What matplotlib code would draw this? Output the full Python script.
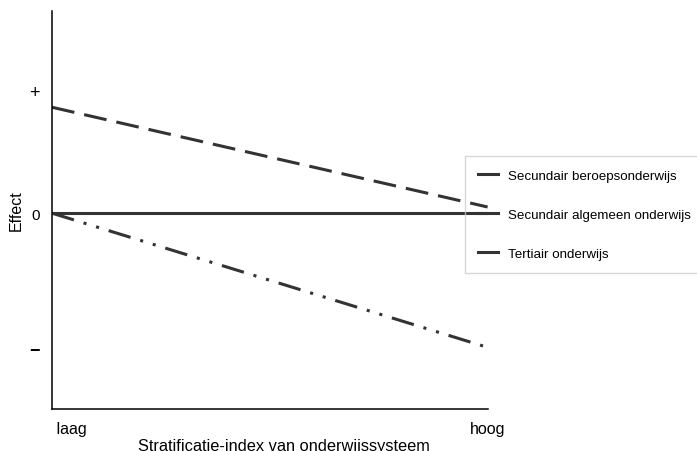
import matplotlib.pyplot as plt
from matplotlib.lines import Line2D

plt.rcParams['font.family'] = ['Liberation Sans', 'DejaVu Sans']

# endpoints at "laag" (0) and "hoog" (1)
x = [0, 1]
beroeps = [0.86, 0.05]
algemeen = [0.0, 0.0]
tertiair = [0.0, -1.09]

names = ["Secundair beroepsonderwijs", "Secundair algemeen onderwijs", "Tertiair onderwijs"]
ytick_pos = [1.0, 0.0, -1.1]
ytick_lab = ["+", "0", "\u2212"]
xtick_lab = [" laag", "hoog"]

col = '#333333'

fig = plt.figure(figsize=(6.97, 4.52), dpi=100)
ax = fig.add_axes([0.0746, 0.093, 0.625, 0.880])

ax.plot(x, beroeps, color=col, lw=2.2, dashes=(7.5, 3.3), dash_capstyle='butt')
ax.plot(x, algemeen, color=col, lw=2.2)
ax.plot(x, tertiair, color=col, lw=2.2, dashes=(7.5, 3.3, 1.0, 3.3, 1.0, 3.3), dash_capstyle='butt')

ax.set_xlim(0, 1)
ax.set_ylim(-1.59, 1.64)
ax.spines['top'].set_visible(False)
ax.spines['right'].set_visible(False)
ax.spines['left'].set_linewidth(1.1)
ax.spines['bottom'].set_linewidth(1.1)

ax.set_yticks(ytick_pos)
ax.set_yticklabels(ytick_lab, fontsize=11)
ylbls = ax.get_yticklabels()
ylbls[0].set_fontsize(13)
ylbls[2].set_fontweight('bold')
ylbls[2].set_fontsize(13)
ax.set_xticks(x)
ax.set_xticklabels(xtick_lab, fontsize=11.5)
ax.get_xticklabels()[0].set_horizontalalignment('left')
ax.tick_params(axis='both', length=0)
ax.tick_params(axis='y', pad=9)
ax.tick_params(axis='x', pad=9)

ax.set_xlabel("Stratificatie-index van onderwijssysteem", fontsize=11.8, labelpad=1)
ax.xaxis.label.set_x(0.533)
ax.set_ylabel("Effect", fontsize=11.5, labelpad=4)

handles = [Line2D([], [], color=col, lw=2.2) for _ in names]
leg = fig.legend(handles, names, loc='upper left', bbox_to_anchor=(0.667, 0.653),
                 fontsize=9.6, frameon=True, fancybox=False, labelspacing=2.0,
                 handlelength=1.5, handletextpad=0.75, borderpad=1.0, borderaxespad=0)
leg.get_frame().set_edgecolor('#cccccc')
leg.get_frame().set_facecolor('none')
leg.get_frame().set_linewidth(1.0)

fig.savefig('out.png', dpi=100)
